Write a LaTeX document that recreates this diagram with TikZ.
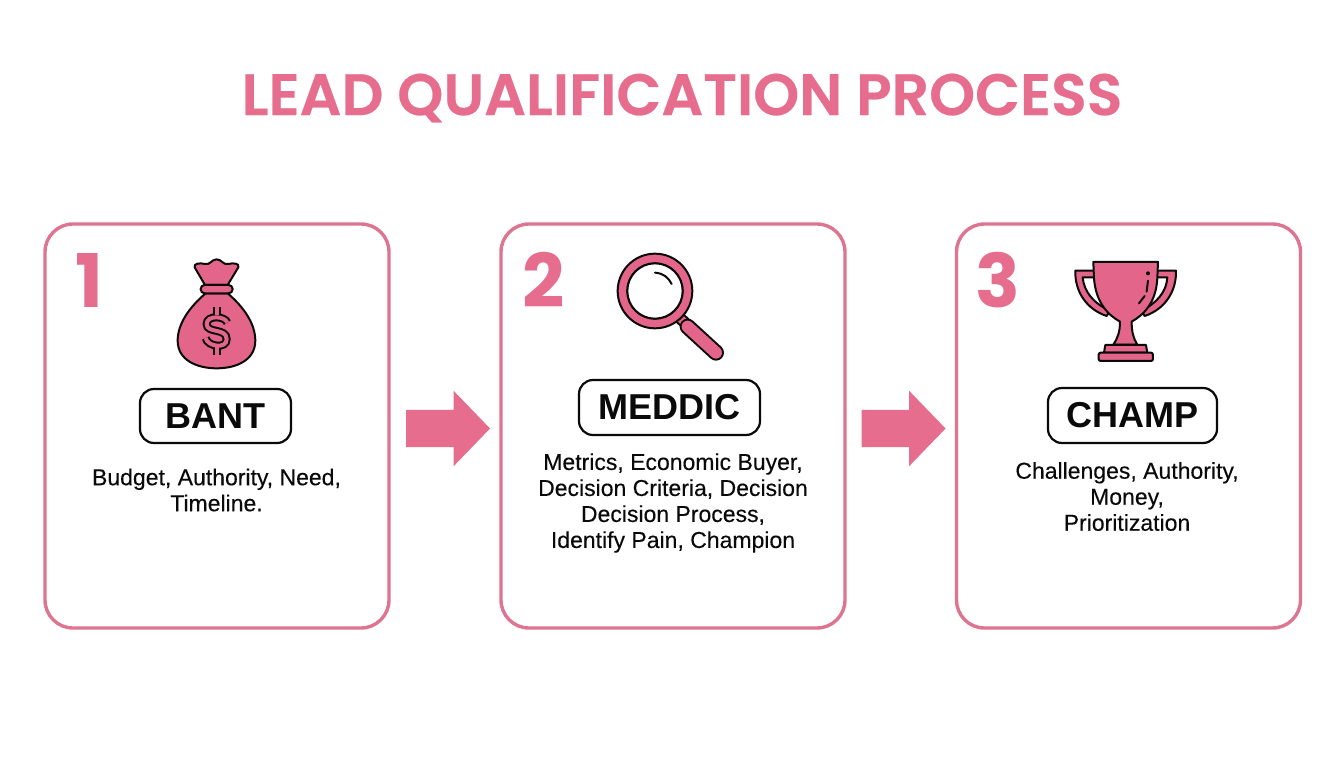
\documentclass[tikz,border=0pt]{standalone}
\usepackage{fontspec}
\setmainfont{Liberation Sans}
\newfontfamily\titlefont[FakeBold=0.4]{Poppins SemiBold}
\newfontfamily\numfont{Poppins}
\newfontfamily\descfont[FakeBold=0.25]{Liberation Sans}
\usetikzlibrary{shapes.arrows}
\definecolor{pinkfill}{HTML}{E3658A}
\definecolor{pinkline}{HTML}{DE7590}
\definecolor{pinktext}{HTML}{E66D8D}
\definecolor{inkblack}{HTML}{0B0A0B}
\tikzset{
  card/.style={draw=pinkline,line width=3.4pt,rounded corners=28pt,fill=white,minimum width=344pt,minimum height=404pt,inner sep=0pt,outer sep=0pt},
  pill/.style={draw=inkblack,line width=2.2pt,rounded corners=14pt,fill=white,inner sep=0pt,font=\fontsize{36}{40}\selectfont\bfseries,text=inkblack},
  numeral/.style={font=\numfont\fontsize{74}{74}\selectfont\bfseries,text=pinktext,inner sep=0pt},
  desc/.style={font=\descfont\fontsize{23}{26}\selectfont,text=inkblack,align=center,inner sep=0pt},
  blockarrow/.style={single arrow,fill=pinktext,inner sep=18.5pt,outer sep=0pt,minimum height=84pt,single arrow head extend=19pt,single arrow head indent=0pt,single arrow tip angle=92},
  icon/.style={draw=inkblack,fill=pinkfill,line width=2pt,line join=round},
  iconline/.style={draw=inkblack,line width=2pt,line cap=round}
}
\begin{document}
\begin{tikzpicture}[x=1pt,y=-1pt]
\useasboundingbox[fill=white] (0,0) rectangle (1344,768);
\node[font=\titlefont\fontsize{58.5}{60}\selectfont,text=pinktext,inner sep=0pt] (title) at (682,98) {LEAD QUALIFICATION PROCESS};
\node[card] (c1) at (217,426) {};
\node[card] (c2) at (673,426) {};
\node[card] (c3) at (1128.5,426) {};
\node[blockarrow] (a1) at (439,428.5) {};
\node[blockarrow] (a2) at (894.5,428.5) {};
\node[numeral] (n1) at (89,280) {1};
\node[numeral] (n2) at (544,280) {2};
\node[numeral] (n3) at (998,280) {3};
\node[pill,minimum width=151pt,minimum height=54pt] (p1) at (215.5,416) {BANT};
\node[pill,minimum width=181pt,minimum height=55pt] (p2) at (669.5,407.5) {MEDDIC};
\node[pill,minimum width=169pt,minimum height=55pt] (p3) at (1132.5,415.5) {CHAMP};
\node[desc] (d1) at (216.5,490) {Budget, Authority, Need,\\Timeline.};
\node[desc] (d2) at (673,503) {Metrics, Economic Buyer,\\Decision Criteria, Decision\\Decision Process,\\Identify Pain, Champion};
\node[desc] (d3) at (1127,496.5) {Challenges, Authority,\\Money,\\Prioritization};
% money bag
\begin{scope}[shift={(40,220)},x=0.3333pt,y=0.3333pt,yscale=-1]
\path[icon] (495,195) -- (464,142) .. controls (460,130) and (480,128) .. (495,132) .. controls (510,136) and (515,118) .. (530,118) .. controls (545,118) and (550,136) .. (565,132) .. controls (580,128) and (600,130) .. (595,142) -- (563,195) -- cycle;
\path[icon] (497,220) .. controls (450,260) and (413,310) .. (413,362) .. controls (413,420) and (470,445) .. (530,445) .. controls (590,445) and (646,420) .. (646,362) .. controls (646,310) and (610,260) .. (563,220) -- cycle;
\path[icon,rounded corners=4pt] (482,195) rectangle (578,220);
\foreach \w/\c in {8pt/inkblack,4pt/pinkfill}{
  \draw[draw=\c,line width=\w,line cap=butt] (530,262) -- (530,286);
  \draw[draw=\c,line width=\w,line cap=butt] (530,378) -- (530,404);
  \draw[draw=\c,line width=\w,line cap=butt] (562,308) .. controls (556,288) and (500,284) .. (500,312) .. controls (500,342) and (560,322) .. (560,358) .. controls (560,388) and (502,380) .. (497,354);
}
\end{scope}
% magnifier
\begin{scope}[shift={(500,220)},x=0.3333pt,y=0.3333pt,yscale=-1]
\draw[draw=inkblack,line width=12pt] (530,285) -- (565,318);
\draw[draw=pinkfill,line width=8pt] (530,285) -- (565,318);
\draw[draw=inkblack,line width=16pt,line cap=round] (563,320) -- (648,398);
\draw[draw=pinkfill,line width=12pt,line cap=round] (563,320) -- (648,398);
\path[icon,even odd rule] (465,213) circle[radius=112] (465,213) circle[radius=83];
\path[draw=inkblack,fill=white,line width=2pt] (465,213) circle[radius=83];
\draw[iconline] (465,158) .. controls (490,160) and (505,172) .. (515,192);
\end{scope}
% trophy
\begin{scope}[shift={(950,220)},x=0.3333pt,y=0.3333pt,yscale=-1]
\path[icon] (432,152) -- (376,152) .. controls (374,215) and (410,268) .. (470,288) -- (480,272) .. controls (430,250) and (402,215) .. (398,172) -- (436,172) -- cycle;
\path[icon] (622,152) -- (678,152) .. controls (680,215) and (644,268) .. (584,288) -- (574,272) .. controls (620,250) and (650,215) .. (652,172) -- (618,172) -- cycle;
\path[icon] (430,126) -- (624,126) -- (622,175) .. controls (618,250) and (580,285) .. (545,305) .. controls (545,335) and (550,355) .. (562,374) -- (490,374) .. controls (503,355) and (510,335) .. (510,305) .. controls (475,285) and (438,250) .. (432,175) -- cycle;
\path[icon] (462,398) -- (466,375) -- (588,375) -- (592,398) -- cycle;
\path[icon,rounded corners=2pt] (446,398) rectangle (609,423);
\path[fill=inkblack] (594,160) circle[radius=6];
\draw[iconline] (594,182) -- (590,215);
\draw[iconline] (584,228) -- (567,250);
\end{scope}
\end{tikzpicture}
\end{document}
